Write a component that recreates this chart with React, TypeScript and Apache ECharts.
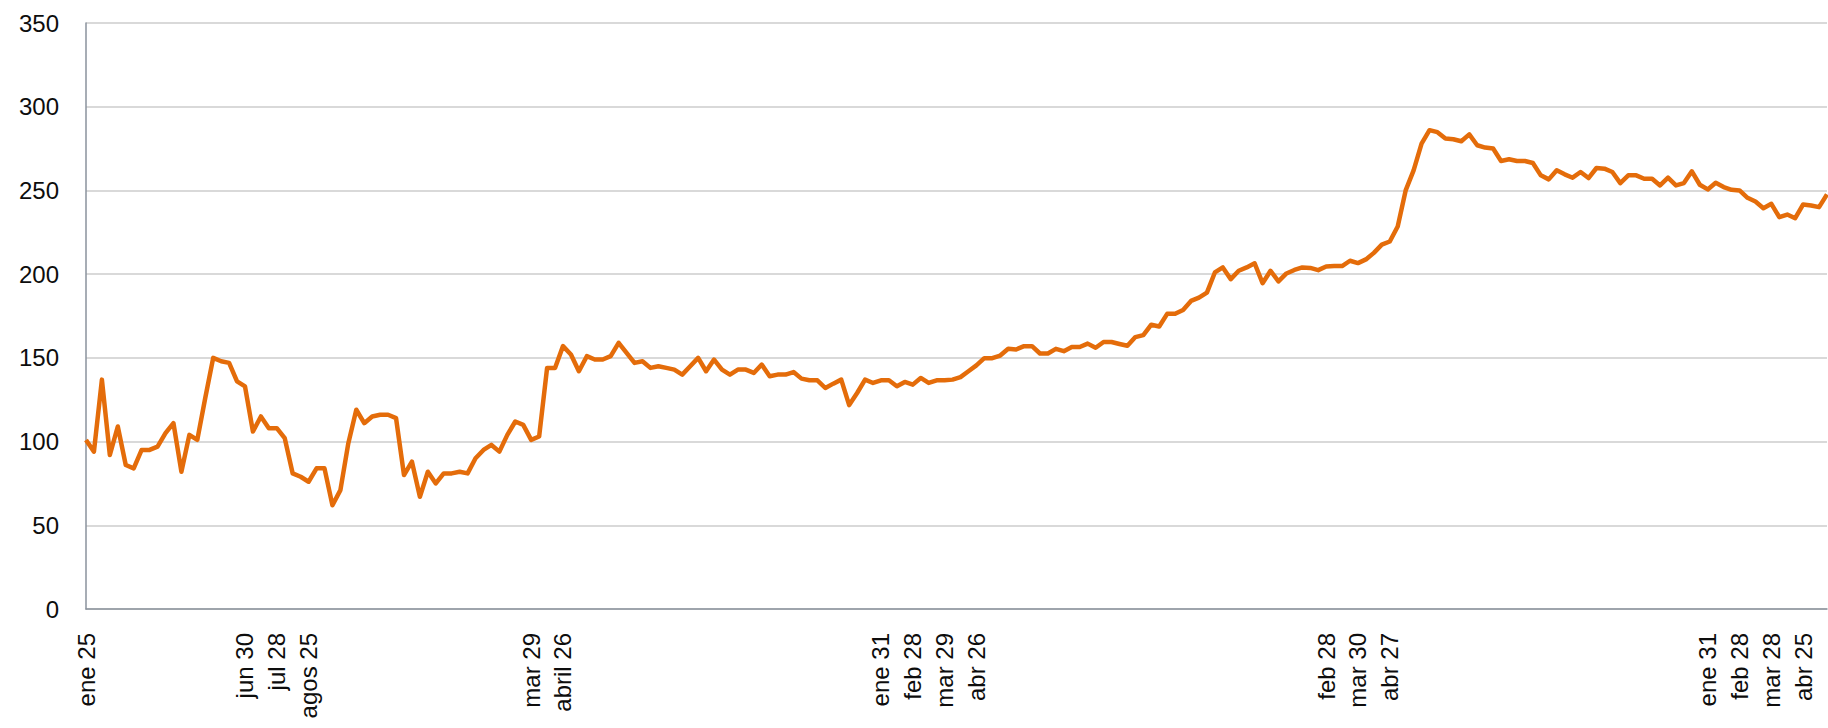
import React, { useEffect, useRef } from "react";
import * as echarts from "echarts";

const values: number[] = [
  101, 94, 137, 92, 109, 86, 84, 95, 95, 97,
  105, 111, 82, 104, 101, 126, 150, 148, 147, 136,
  133, 106, 115, 108, 108, 102, 81, 79, 76, 84,
  84, 62, 71, 99, 119, 111, 115, 116, 116, 114,
  80, 88, 67, 82, 75, 81, 81, 82, 81, 90,
  95, 98, 94, 104, 112, 110, 101, 103, 144, 144,
  157, 152, 142, 151, 149, 149, 151, 159, 153, 147,
  148, 144, 145, 144, 143, 140, 145, 150, 142, 149,
  143, 140, 143, 143, 141, 146, 139, 140, 140, 141.5,
  137.6, 136.6, 136.6, 132, 134.6, 137, 121.8, 129, 137, 135,
  136.6, 136.6, 133, 135.6, 134, 138, 135, 136.6, 136.6, 137,
  138.5, 142, 145.5, 149.8, 149.8, 151.4, 155.4, 155, 157, 157,
  152.6, 152.6, 155.4, 154, 156.5, 156.5, 158.5, 156, 159.5, 159.5,
  158.3, 157.2, 162.4, 163.6, 169.8, 168.7, 176.3, 176.3, 178.6, 184,
  186, 189, 201, 204, 197, 202, 204, 206.5, 194.6, 202,
  195.7, 200.4, 202.5, 204, 203.7, 202.4, 204.6, 204.8, 204.8, 208,
  206.6, 208.8, 212.7, 217.6, 219.5, 228.5, 250, 262, 278, 286,
  284.8, 281, 280.6, 279.4, 283.5, 277, 275.6, 275, 267.6, 268.6,
  267.6, 267.6, 266.4, 259, 256.6, 262, 259.6, 257.6, 261, 257.4,
  263.4, 263, 261, 254.4, 259, 259, 257, 257, 253, 257.6,
  253, 254.4, 261.4, 253.4, 250.6, 254.6, 252, 250.4, 250, 245.6,
  243.4, 239.4, 242, 234, 235.6, 233.4, 241.6, 241, 240, 247.6,
];

const tickIndex: number[] = [0, 20, 24, 28, 56, 60, 100, 104, 108, 112, 156, 160, 164, 204, 208, 212, 216];
const tickLabels: string[] = [
  "ene 25", "jun 30", "jul 28", "agos 25", "mar 29", "abril 26",
  "ene 31", "feb 28", "mar 29", "abr 26", "feb 28", "mar 30", "abr 27",
  "ene 31", "feb 28", "mar 28", "abr 25",
];

const categories: string[] = values.map((_, i) => {
  const p = tickIndex.indexOf(i);
  return p >= 0 ? tickLabels[p] : "";
});

export default function App() {
  const ref = useRef<HTMLDivElement>(null);
  useEffect(() => {
    if (!ref.current) return;
    const chart = echarts.init(ref.current, undefined, { renderer: "svg" });
    chart.setOption({
      animation: false,
      backgroundColor: "#ffffff",
      grid: { left: 86, right: 1, top: 23, bottom: 119, containLabel: false },
      xAxis: {
        type: "category",
        data: categories,
        boundaryGap: false,
        axisLine: { show: true, lineStyle: { color: "#8a929c", width: 1.5 } },
        axisTick: { show: false },
        splitLine: { show: false },
        axisLabel: {
          interval: 0,
          rotate: 90,
          margin: 24,
          color: "#0d0d0d",
          fontFamily: "Liberation Sans, Arial, sans-serif",
          fontSize: 24,
        },
      },
      yAxis: {
        type: "value",
        min: 0,
        max: 350,
        interval: 50,
        axisLine: { show: true, lineStyle: { color: "#8a929c", width: 1.5 } },
        axisTick: { show: false },
        splitLine: { show: true, lineStyle: { color: "#d9d9d9", width: 2 } },
        axisLabel: {
          margin: 27,
          color: "#0d0d0d",
          fontFamily: "Liberation Sans, Arial, sans-serif",
          fontSize: 24,
        },
      },
      series: [
        {
          type: "line",
          data: values,
          symbol: "none",
          lineStyle: { color: "#E46C0A", width: 4.5, join: "round" },
          z: 3,
        },
      ],
    });
    return () => chart.dispose();
  }, []);
  return (
    <div
      ref={ref}
      style={{ position: "absolute", left: 0, top: 0, width: 1828, height: 728 }}
    />
  );
}
